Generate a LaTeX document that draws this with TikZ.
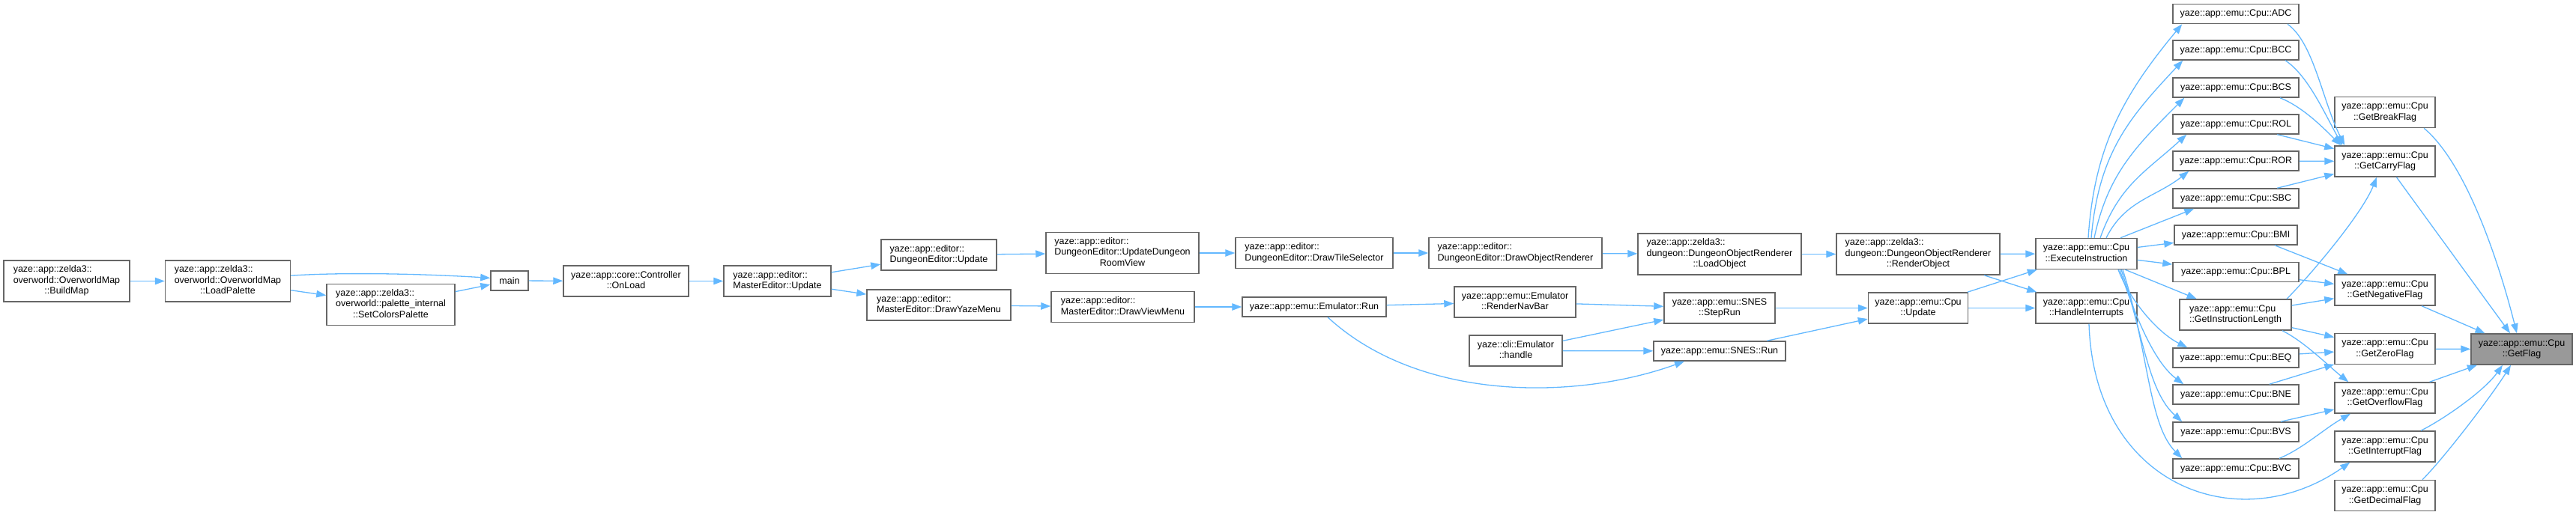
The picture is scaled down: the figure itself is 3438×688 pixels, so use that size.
\documentclass[tikz,border=0pt]{standalone}
\usepackage{fontspec}
\setmainfont{Liberation Sans}
\usetikzlibrary{arrows.meta}
\definecolor{cedge}{RGB}{99,184,255}
\definecolor{cframe}{RGB}{102,102,102}
\definecolor{cfocus}{RGB}{153,153,153}
\newcommand{\twol}[2]{\begin{tabular}{@{}l@{}}#1\\\multicolumn{1}{@{}c@{}}{#2}\end{tabular}}
\newcommand{\threel}[3]{\begin{tabular}{@{}l@{}}#1\\#2\\\multicolumn{1}{@{}c@{}}{#3}\end{tabular}}
\tikzset{cgraph/.style={x=1pt,y=1pt,font=\fontsize{12.5}{14.5}\selectfont},
  func/.style={draw=cframe,line width=1.5pt,fill=white,inner xsep=4pt,inner ysep=2pt,minimum height=26pt},
  func2/.style={func,minimum height=41pt},
  func3/.style={func,minimum height=55pt},
  calls/.style={draw=cedge,line width=1.3pt,-{Triangle[length=13pt,width=9.5pt]}}}

\begin{document}
\begin{tikzpicture}[cgraph]
    \useasboundingbox (0,0) rectangle (3438,-688);
    \node[func3,minimum width=168] (bm) at (89,-375.5) {\threel{yaze::app::zelda3::}{overworld::OverworldMap}{::BuildMap}};
    \node[func3,minimum width=167] (lp) at (304,-375.5) {\threel{yaze::app::zelda3::}{overworld::OverworldMap}{::LoadPalette}};
    \node[func3,minimum width=171] (scp) at (521.5,-407) {\threel{yaze::app::zelda3::}{overworld::palette\_internal}{::SetColorsPalette}};
    \node[func,minimum width=50] (main) at (680,-375) {main};
    \node[func2,minimum width=167] (onl) at (835.5,-375.5) {\twol{yaze::app::core::Controller}{::OnLoad}};
    \node[func2,minimum width=143] (meu) at (1037.5,-375.5) {\twol{yaze::app::editor::}{MasterEditor::Update}};
    \node[func2,minimum width=154] (deu) at (1253,-340.5) {\twol{yaze::app::editor::}{DungeonEditor::Update}};
    \node[func2,minimum width=192] (dym) at (1253,-407.5) {\twol{yaze::app::editor::}{MasterEditor::DrawYazeMenu}};
    \node[func3,minimum width=204] (udr) at (1498,-338) {\threel{yaze::app::editor::}{DungeonEditor::UpdateDungeon}{RoomView}};
    \node[func2,minimum width=191] (dvm) at (1498.5,-410) {\twol{yaze::app::editor::}{MasterEditor::DrawViewMenu}};
    \node[func2,minimum width=210] (dts) at (1754,-338) {\twol{yaze::app::editor::}{DungeonEditor::DrawTileSelector}};
    \node[func,minimum width=192] (er) at (1754,-410) {yaze::app::emu::Emulator::Run};
    \node[func2,minimum width=231] (dor) at (2022.5,-338) {\twol{yaze::app::editor::}{DungeonEditor::DrawObjectRenderer}};
    \node[func2,minimum width=162] (rnb) at (2022,-403.5) {\twol{yaze::app::emu::Emulator}{::RenderNavBar}};
    \node[func2,minimum width=124] (hd) at (2023,-468.5) {\twol{yaze::cli::Emulator}{::handle}};
    \node[func3,minimum width=218] (lo) at (2295,-339.5) {\threel{yaze::app::zelda3::}{dungeon::DungeonObjectRenderer}{::LoadObject}};
    \node[func2,minimum width=148] (sr) at (2295,-411.5) {\twol{yaze::app::emu::SNES}{::StepRun}};
    \node[func,minimum width=176] (sn) at (2295,-469) {yaze::app::emu::SNES::Run};
    \node[func3,minimum width=218] (ro) at (2560,-339.5) {\threel{yaze::app::zelda3::}{dungeon::DungeonObjectRenderer}{::RenderObject}};
    \node[func2,minimum width=133] (cu) at (2560,-411.5) {\twol{yaze::app::emu::Cpu}{::Update}};
    \node[func2,minimum width=135] (ei) at (2784.5,-339) {\twol{yaze::app::emu::Cpu}{::ExecuteInstruction}};
    \node[func2,minimum width=135] (hi) at (2784.5,-411.5) {\twol{yaze::app::emu::Cpu}{::HandleInterrupts}};
    \foreach \nm/\lbl/\y/\w in {adc/ADC/18.5/168,bcc/BCC/67/168,bcs/BCS/117/168,rol/ROL/166/168,
        ror/ROR/215/168,sbc/SBC/265/168,bmi/BMI/314/164,bpl/BPL/363.5/168,
        beq/BEQ/478/168,bne/BNE/527/168,bvs/BVS/577/168,bvc/BVC/626/168}
      \node[func,minimum width=\w] (\nm) at (2984,-\y) {yaze::app::emu::Cpu::\lbl};
    \node[func2,minimum width=149] (gil) at (2983.5,-420.5) {\twol{yaze::app::emu::Cpu}{::GetInstructionLength}};
    \foreach \nm/\lbl/\y in {gbf/Break/150,gcf/Carry/215.5,gnf/Negative/387.5,gzf/Zero/466,
        gof/Overflow/531.5,gif/Interrupt/596.5,gdf/Decimal/662}
      \node[func2,minimum width=134] (\nm) at (3183,-\y) {\twol{yaze::app::emu::Cpu}{::Get\lbl Flag}};
    \node[func2,fill=cfocus,minimum width=135] (gf) at (3365.5,-466.5) {\twol{yaze::app::emu::Cpu}{::GetFlag}};

    \foreach \a/\b in {bm/lp,lp/scp,scp/main,main/onl,onl/meu,meu/deu,meu/dym,deu/udr,dym/dvm,
        udr/dts,dts/dor,dor/lo,lo/ro,ro/ei,dvm/er,er/rnb,rnb/sr,hd/sr,hd/sn,sr/cu,sn/cu,cu/ei,
        cu/hi,ro/hi,ei/bmi,ei/bpl,ei/gil,rol/gcf,ror/gcf,sbc/gcf,bpl/gnf,gil/gnf,gil/gzf,
        beq/gzf,bne/gzf,bvs/gof,gcf/gf,gnf/gf,gzf/gf,gof/gf}
      \draw[calls] (\a) -- (\b);
    \draw[calls] (lp.5) .. controls +(80,5) and +(-80,5) .. (main.172);
    \draw[calls] ([xshift=18]er.south) .. controls +(121,-112) and +(-147,-53) .. ([xshift=-47]sn.south);
    \draw[calls] ([xshift=2.5]ei.north) .. controls +(8,122) and +(-78,-94) .. ([xshift=13]adc.south west);
    \draw[calls] ([xshift=6.5]ei.north) .. controls +(10,115) and +(-70,-75) .. ([xshift=14]bcc.south west);
    \draw[calls] ([xshift=10.5]ei.north) .. controls +(18,85) and +(-65,-65) .. ([xshift=16]bcs.south west);
    \draw[calls] ([xshift=18.5]ei.north) .. controls +(25,70) and +(-55,-50) .. ([xshift=19]rol.south west);
    \draw[calls] ([xshift=26.5]ei.north) .. controls +(25,50) and +(-45,-35) .. ([xshift=22]ror.south west);
    \draw[calls] ([xshift=45.5]ei.north) -- ([xshift=29]sbc.south west);
    \draw[calls] ([xshift=42.5]ei.south) .. controls +(15,-40) and +(-40,20) .. ([xshift=20]beq.north west);
    \draw[calls] ([xshift=44.5]ei.south) .. controls +(20,-60) and +(-40,30) .. ([xshift=15]bne.north west);
    \draw[calls] ([xshift=46.5]ei.south) .. controls +(30,-90) and +(-45,40) .. ([xshift=13]bvs.north west);
    \draw[calls] ([xshift=48.5]ei.south) .. controls +(35,-110) and +(-45,45) .. ([xshift=13]bvc.north west);
    \draw[calls] ([xshift=3.5]hi.south) .. controls +(7,-218) and +(-147,-103) .. ([xshift=21]gif.south west);
    \draw[calls] ([xshift=69]adc.south) .. controls +(35,-25) and +(-30,60) .. ([xshift=14]gcf.north west);
    \draw[calls] ([xshift=66]bcc.south) .. controls +(30,-20) and +(-25,45) .. ([xshift=11]gcf.north west);
    \draw[calls] ([xshift=59]bcs.south) .. controls +(30,-12) and +(-25,25) .. ([xshift=9]gcf.north west);
    \draw[calls] ([xshift=52]bmi.south) -- ([xshift=18]gnf.north west);
    \draw[calls] ([xshift=68.5]gil.north) .. controls +(30,30) and +(-20,-50) .. ([xshift=-11]gcf.south);
    \draw[calls] ([xshift=62.5]gil.south) .. controls +(30,-15) and +(-25,20) .. ([xshift=19]gof.north west);
    \draw[calls] ([xshift=58]bvc.north) .. controls +(30,12) and +(-35,-20) .. ([xshift=-46]gof.south);
    \draw[calls] ([xshift=52]gbf.south) .. controls +(60,-50) and +(-20,80) .. ([xshift=-6.5]gf.north);
    \draw[calls] ([xshift=48]gif.north) .. controls +(30,15) and +(-25,-35) .. ([xshift=-25.5]gf.south);
    \draw[calls] ([xshift=50]gdf.north) .. controls +(30,30) and +(-25,-40) .. ([xshift=-14.5]gf.south);
  \end{tikzpicture}
\end{document}
